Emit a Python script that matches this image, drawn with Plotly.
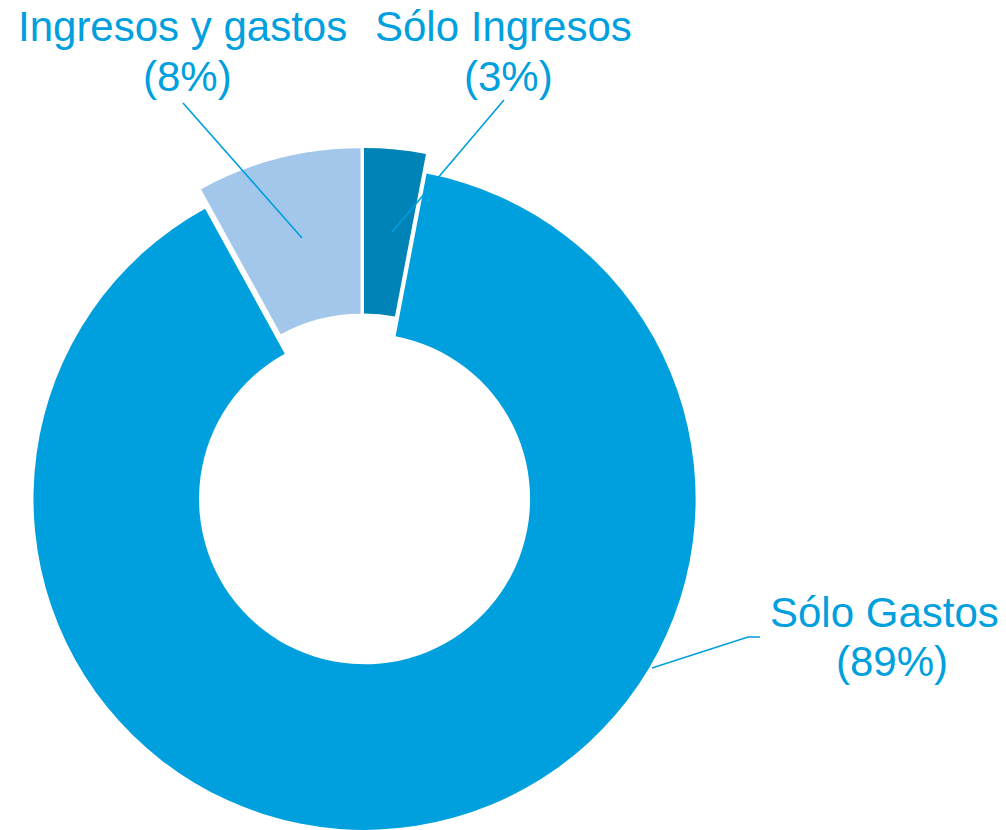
import plotly.graph_objects as go

labels = ["Sólo Ingresos", "Sólo Gastos", "Ingresos y gastos"]
values = [3, 89, 8]
pct_texts = ["(3%)", "(89%)", "(8%)"]
colors = ["#0083B7", "#009FDD", "#A3C7EA"]

W, H = 1006, 830
TXT = "#009FDD"
FS = 42

fig = go.Figure(go.Pie(
    labels=labels, values=values, sort=False, direction="clockwise", rotation=0,
    hole=0.5, pull=[0.03, 0.03, 0.03],
    marker=dict(colors=colors, line=dict(width=0)),
    textinfo="none", hoverinfo="label+percent", showlegend=False,
    domain=dict(x=[22 / W, 704 / W], y=[0, 682 / H]),
))

def pp(x, y):
    # page pixel -> paper coords
    return x / W, 1 - y / H

# label placements: (center x line1, baseline line1, center x line2, baseline line2) in px
place = {
    "Sólo Ingresos": (503, 41.5, 509, 90.7),
    "Sólo Gastos": (884.5, 626.7, 892, 675.7),
    "Ingresos y gastos": (182.5, 41.5, 187.5, 90.7),
}
mid_off = 0.3465 * FS
for lab, pct in zip(labels, pct_texts):
    x1, b1, x2, b2 = place[lab]
    for txt, cx, base in ((lab, x1, b1), (pct, x2, b2)):
        x, y = pp(cx, base - mid_off)
        fig.add_annotation(x=x, y=y, xref="paper", yref="paper", text=txt, showarrow=False,
                           xanchor="center", yanchor="middle", align="center", borderpad=0,
                           font=dict(family="Liberation Sans, Arial", size=FS, color=TXT))

def seg(points):
    d = "M " + " L ".join("{:.5f},{:.5f}".format(*pp(*p)) for p in points)
    fig.add_shape(type="path", path=d, xref="paper", yref="paper",
                  line=dict(color=TXT, width=1.6))

seg([(183, 103), (302, 238)])
seg([(504, 100), (392, 232)])
seg([(652, 668), (748, 637), (760, 637)])

fig.update_layout(width=W, height=H, margin=dict(l=0, r=0, t=0, b=0),
                  paper_bgcolor="white", plot_bgcolor="white")
fig.write_html("out.html", config={"displayModeBar": False},
               post_script="document.body.style.margin='0px';")
